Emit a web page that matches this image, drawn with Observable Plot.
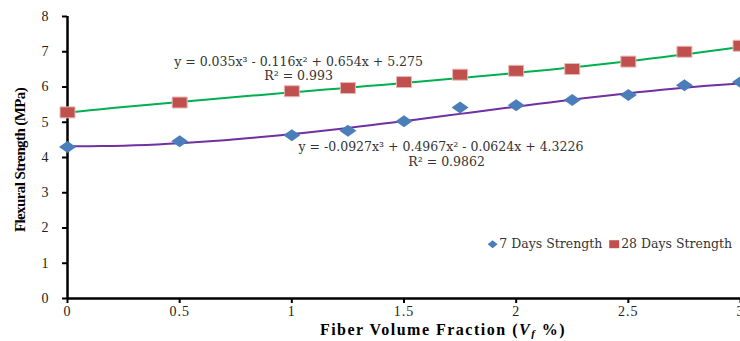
<!DOCTYPE html>
<html>
<head>
<meta charset="utf-8">
<script src="https://cdn.jsdelivr.net/npm/d3@7"></script>
<script src="https://cdn.jsdelivr.net/npm/@observablehq/plot@0.6"></script>
<style>
  html, body { margin: 0; padding: 0; background: #fff; }
  #chart { width: 740px; height: 341px; }
</style>
</head>
<body>
<div id="chart"></div>
<script>
// Data
const fiberFraction = [0, 0.5, 1, 1.25, 1.5, 1.75, 2, 2.25, 2.5, 2.75, 3];
const strength7 = [4.30, 4.46, 4.63, 4.76, 5.03, 5.42, 5.48, 5.63, 5.77, 6.05, 6.14];
const strength28 = [5.28, 5.56, 5.88, 5.97, 6.14, 6.35, 6.46, 6.51, 6.72, 7.00, 7.17];
// Trendline coefficients as printed on the chart (c3, c2, c1, c0)
const coef7 = [-0.0927, 0.4967, -0.0624, 4.3226];
const coef28 = [0.035, -0.116, 0.654, 5.275];
const xTicks = [0, 0.5, 1, 1.5, 2, 2.5, 3];
const yTicks = [0, 1, 2, 3, 4, 5, 6, 7, 8];
const seriesNames = ["7 Days Strength", "28 Days Strength"];
const eqText28 = ["y = 0.035x\u00B3 - 0.116x\u00B2 + 0.654x + 5.275", "R\u00B2 = 0.993"];
const eqText7 = ["y = -0.0927x\u00B3 + 0.4967x\u00B2 - 0.0624x + 4.3226", "R\u00B2 = 0.9862"];

const pts7 = fiberFraction.map((x, i) => ({x, y: strength7[i]}));
const pts28 = fiberFraction.map((x, i) => ({x, y: strength28[i]}));
const cubic = (c, x) => c[0]*x*x*x + c[1]*x*x + c[2]*x + c[3];
const xs = d3.range(0, 3.0001, 0.05);
const trend7 = xs.map(x => ({x, y: cubic(coef7, x)}));
const trend28 = xs.map(x => ({x, y: cubic(coef28, x)}));

const wideSquare = { draw(ctx) { ctx.rect(-7.5, -5.5, 15, 11); } };
const wideDiamond = { draw(ctx) { ctx.moveTo(0, -6); ctx.lineTo(8.5, 0); ctx.lineTo(0, 6); ctx.lineTo(-8.5, 0); ctx.closePath(); } };
const smallDiamond = { draw(ctx) { ctx.moveTo(0, -4); ctx.lineTo(5, 0); ctx.lineTo(0, 4); ctx.lineTo(-5, 0); ctx.closePath(); } };
const smallSquare = { draw(ctx) { ctx.rect(-5, -4, 10, 8); } };

const serif = "'Liberation Serif', 'Times New Roman', serif";
const eqFont = "'DejaVu Serif', serif";

const plot = Plot.plot({
  width: 740,
  height: 341,
  marginLeft: 67,
  marginRight: 0,
  marginTop: 16,
  marginBottom: 43,
  style: { fontFamily: serif, fontSize: "14px", color: "#000", background: "#fff", overflow: "visible" },
  x: { domain: [0, 3], ticks: xTicks, tickFormat: d => String(d), label: null },
  y: { domain: [0, 8], ticks: yTicks, tickFormat: d => String(d), label: null },
  marks: [
    Plot.axisX({ ticks: xTicks, tickSize: 5, tickPadding: 3, tickFormat: d => String(d), label: null, strokeWidth: 2, fontSize: 14, fill: "#222" }),
    Plot.axisY({ ticks: yTicks, tickSize: 5, tickPadding: 13, tickFormat: d => String(d), label: null, strokeWidth: 2, fontSize: 14, fill: "#222" }),
    Plot.ruleY([0], { stroke: "#000", strokeWidth: 2.5 }),
    Plot.ruleX([0], { stroke: "#000", strokeWidth: 2.5 }),
    Plot.line(trend28, { x: "x", y: "y", stroke: "#00B050", strokeWidth: 2 }),
    Plot.line(trend7, { x: "x", y: "y", stroke: "#7030A0", strokeWidth: 2 }),
    Plot.dot(pts28, { x: "x", y: "y", symbol: wideSquare, fill: "#C0504D", stroke: "#E8B8B6", strokeWidth: 1 }),
    Plot.dot(pts7, { x: "x", y: "y", symbol: wideDiamond, fill: "#4A7EBB", stroke: "none" }),
    Plot.text([eqText28[0]], { x: 1.03, y: 6.71, text: d => d, fontFamily: eqFont, fontSize: 12.5, fill: "#333" }),
    Plot.text([eqText28[1]], { x: 1.03, y: 6.3, text: d => d, fontFamily: eqFont, fontSize: 12.5, fill: "#333" }),
    Plot.text([eqText7[0]], { x: 1.03, y: 4.29, text: d => d, textAnchor: "start", fontFamily: eqFont, fontSize: 12.5, fill: "#333" }),
    Plot.text([eqText7[1]], { x: 1.69, y: 3.88, text: d => d, fontFamily: eqFont, fontSize: 12.5, fill: "#333" }),
    // legend
    Plot.dot([seriesNames[0]], { x: 1.895, y: 1.54, symbol: smallDiamond, fill: "#4A7EBB" }),
    Plot.text([seriesNames[0]], { x: 1.925, y: 1.54, text: d => d, textAnchor: "start", fontFamily: eqFont, fontSize: 12.5, fill: "#333" }),
    Plot.dot([seriesNames[1]], { x: 2.437, y: 1.54, symbol: smallSquare, fill: "#C0504D" }),
    Plot.text([seriesNames[1]], { x: 2.468, y: 1.54, text: d => d, textAnchor: "start", fontFamily: eqFont, fontSize: 12.5, fill: "#333" })
  ]
});

document.getElementById("chart").appendChild(plot);

const svg = d3.select(plot);
svg.selectAll("g[aria-label='x-axis tick label'] text, g[aria-label='y-axis tick label'] text").attr("letter-spacing", "1px");

// axis titles
svg.append("text")
  .attr("transform", "translate(25,160) rotate(-90)")
  .attr("text-anchor", "middle")
  .attr("font-family", serif)
  .attr("font-weight", "bold")
  .attr("font-size", 15)
  .attr("letter-spacing", "-0.6px")
  .text("Flexural Strength (MPa)");

const xt = svg.append("text")
  .attr("x", 443).attr("y", 335)
  .attr("text-anchor", "middle")
  .attr("font-family", serif)
  .attr("font-weight", "bold")
  .attr("font-size", 16)
  .attr("letter-spacing", "1.5px");
xt.append("tspan").text("Fiber Volume Fraction (");
xt.append("tspan").attr("font-style", "italic").text("V");
xt.append("tspan").attr("font-style", "italic").attr("font-size", 11).attr("dy", 2).text("f");
xt.append("tspan").attr("dy", -2).text(" %)");
</script>
</body>
</html>
